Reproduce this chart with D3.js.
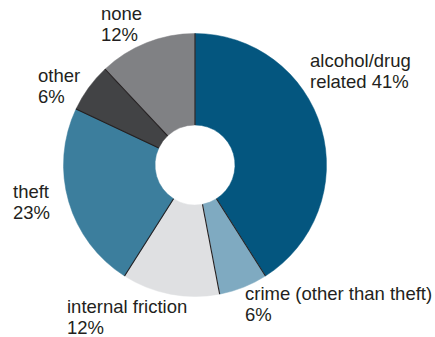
<!DOCTYPE html>
<html>
<head>
<meta charset="utf-8">
<script src="https://cdn.jsdelivr.net/npm/d3@7"></script>
<style>
  html, body { margin: 0; padding: 0; background: #fff; }
  svg { display: block; }
  text { font-family: "Liberation Sans", Arial, Helvetica, sans-serif; fill: #231f20; }
</style>
</head>
<body>
<div id="chart"></div>
<script>
// Reasons, in clockwise order from 12 o'clock
const categories = ["alcohol/drug related", "crime (other than theft)", "internal friction", "theft", "other", "none"];
const values = [41, 6, 12, 23, 6, 12];
const colors = ["#04567f", "#7faac1", "#dfe0e2", "#3c7e9d", "#424345", "#808184"];
// Label text lines for each slice
const labelLines = [
  ["alcohol/drug", "related 41%"],
  ["crime (other than theft)", "6%"],
  ["internal friction", "12%"],
  ["theft", "23%"],
  ["other", "6%"],
  ["none", "12%"]
];
// Label anchor (left x, first baseline)
const labelPos = [[310, 67], [245, 300], [67, 313], [13, 198], [38, 82], [101, 20]];

const W = 435, H = 337;
const cx = 195, cy = 165, rOuter = 131.5, rInner = 40;

const svg = d3.select("#chart").append("svg")
  .attr("width", W).attr("height", H);

const g = svg.append("g").attr("transform", `translate(${cx},${cy})`);

const data = categories.map((c, i) => ({ name: c, value: values[i], color: colors[i] }));
const pie = d3.pie().sort(null).value(d => d.value).startAngle(0).endAngle(2 * Math.PI);
const arcs = pie(data);
const arc = d3.arc().innerRadius(rInner).outerRadius(rOuter);

g.selectAll("path.slice").data(arcs).join("path")
  .attr("class", "slice")
  .attr("d", arc)
  .attr("fill", d => d.data.color)
  .attr("stroke", d => d.data.color)
  .attr("stroke-width", 0.5);

// Dark separators between slices
g.selectAll("line.sep").data(arcs).join("line")
  .attr("class", "sep")
  .attr("x1", d => rInner * Math.sin(d.startAngle))
  .attr("y1", d => -rInner * Math.cos(d.startAngle))
  .attr("x2", d => rOuter * Math.sin(d.startAngle))
  .attr("y2", d => -rOuter * Math.cos(d.startAngle))
  .attr("stroke", "#231f20")
  .attr("stroke-width", 1.1);

// Labels
const lab = svg.selectAll("text.lab").data(labelLines).join("text")
  .attr("class", "lab")
  .attr("font-size", "18.5px")
  .attr("x", (d, i) => labelPos[i][0])
  .attr("y", (d, i) => labelPos[i][1]);
lab.selectAll("tspan").data((d, i) => d.map(t => ({ t, i }))).join("tspan")
  .attr("x", d => labelPos[d.i][0])
  .attr("dy", (d, j) => j === 0 ? 0 : 20.8)
  .text(d => d.t);
</script>
</body>
</html>
